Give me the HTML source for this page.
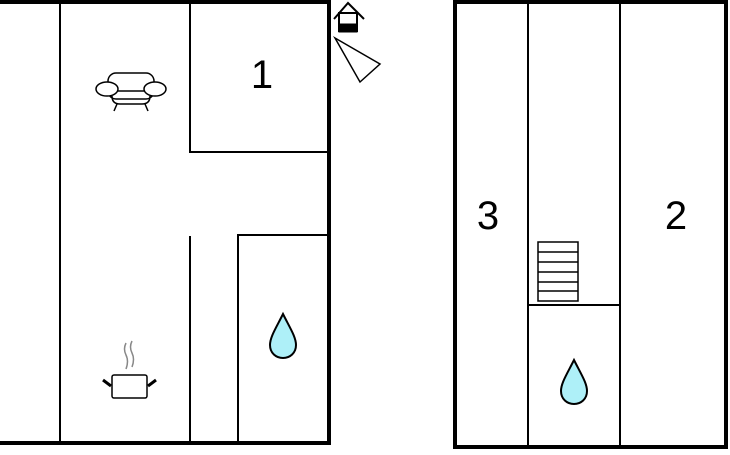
<!DOCTYPE html>
<html><head><style>body{margin:0;background:#fff;width:730px;height:450px;overflow:hidden}</style></head><body>
<svg width="730" height="450" xmlns="http://www.w3.org/2000/svg">
<g fill="none" stroke="#000">
<path d="M-5 2 H329 V443 H-5" stroke-width="4"/>
<path d="M60 2V443 M190 2V152H329 M190 236V443 M238 443V235H329" stroke-width="2"/>
<rect x="455" y="2" width="271" height="445" stroke-width="4"/>
<path d="M528 2V447 M620 2V447 M528 305H620" stroke-width="2"/>
<rect x="538" y="242" width="40" height="59" stroke-width="1.5"/>
<path d="M538 252H578 M538 262H578 M538 272H578 M538 282H578 M538 291H578" stroke-width="1.5"/>
<!-- house -->
<path d="M334 19 L348 3 L364 19" stroke-width="2"/>
<rect x="339" y="13" width="18" height="18" stroke-width="2"/>
<rect x="339" y="24" width="18" height="8" fill="#000"/>
<path d="M335 38 L360 82 L380 64 Z" stroke-width="1.5"/>
<!-- sofa -->
<g stroke-width="1.5">
<rect x="108" y="73" width="46" height="26" rx="8"/>
<ellipse cx="107" cy="89" rx="11" ry="7" fill="#fff"/>
<ellipse cx="155" cy="89" rx="11" ry="7" fill="#fff"/>
<path d="M117 104L114 111 M145 104L148 111 M117 91H145"/>
<path d="M112 96 Q112 104 120 104 H142 Q150 104 150 96"/>
</g>
<!-- pot -->
<g stroke-width="1.5">
<rect x="112" y="375" width="35" height="23" rx="2"/>
<path d="M103 380L111 386 M148 386L156 380" stroke-width="3"/>
<path d="M126 343 q-3 6 0 12 q3 6 0 14 M132 341 q-3 6 0 12 q3 6 0 14" stroke="#888" stroke-width="1.5"/>
</g>
<path d="M283 314 C276 328 270 337 270 345 C270 353 276 358 283 358 C290 358 296 353 296 345 C296 337 290 328 283 314Z" fill="#aef0f8" stroke-width="2"/>
<path d="M574 360 C567 374 561 383 561 391 C561 399 567 404 574 404 C581 404 587 399 587 391 C587 383 581 374 574 360Z" fill="#aef0f8" stroke-width="2"/>
</g>
<g font-family="Liberation Sans, sans-serif" font-size="40" text-anchor="middle">
<text x="262" y="88">1</text>
<text x="488" y="229">3</text>
<text x="676" y="229">2</text>
</g>
</svg>
</body></html>
